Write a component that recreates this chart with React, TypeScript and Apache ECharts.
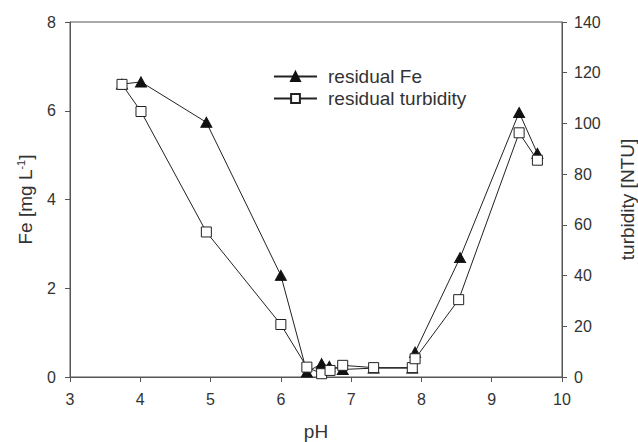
import React, { useEffect, useRef } from "react";
import * as echarts from "echarts";

const phFe = [3.74, 4.01, 4.94, 6.0, 6.37, 6.58, 6.69, 6.88, 7.32, 7.87, 7.91, 8.55, 9.39, 9.65];
const feValues = [6.6, 6.65, 5.74, 2.29, 0.11, 0.3, 0.24, 0.17, 0.2, 0.2, 0.56, 2.69, 5.96, 5.04];
const phTurb = [3.74, 4.01, 4.94, 6.0, 6.37, 6.58, 6.7, 6.88, 7.32, 7.87, 7.91, 8.53, 9.39, 9.65];
const turbValues = [115.4, 104.7, 57.2, 20.7, 3.9, 1.3, 2.6, 4.6, 3.7, 3.7, 7.2, 30.5, 96.3, 85.5];

const seriesNames = ["residual Fe", "residual turbidity"];

const AXIS = "#555";
const TEXT = "#333";
const FONT = "Liberation Sans, Arial, sans-serif";

export default function App() {
  const ref = useRef<HTMLDivElement>(null);
  useEffect(() => {
    if (!ref.current) return;
    const chart = echarts.init(ref.current, undefined, { renderer: "svg" });
    const feData = phFe.map((x, i) => [x, feValues[i]]);
    const turbData = phTurb.map((x, i) => [x, turbValues[i]]);
    chart.setOption({
      animation: false,
      backgroundColor: "#fff",
      textStyle: { fontFamily: FONT },
      grid: {
        left: 70,
        right: 76,
        top: 22,
        bottom: 65,
        show: true,
        borderColor: AXIS,
        borderWidth: 1,
        outerBoundsMode: "none",
      },
      legend: {
        orient: "vertical",
        left: 268,
        top: 62,
        itemWidth: 43,
        itemHeight: 11,
        itemGap: 3,
        data: seriesNames,
        textStyle: { fontSize: 19, color: TEXT, fontFamily: FONT, padding: [0, 0, 0, 6] },
      },
      xAxis: {
        type: "value",
        min: 3,
        max: 10,
        interval: 1,
        name: "pH",
        nameLocation: "middle",
        nameGap: 45,
        nameTextStyle: { fontSize: 19, color: TEXT },
        axisLine: { lineStyle: { color: AXIS } },
        axisTick: { length: 5, lineStyle: { color: AXIS } },
        axisLabel: { fontSize: 16, color: TEXT, margin: 14 },
        splitLine: { show: false },
      },
      yAxis: [
        {
          type: "value",
          min: 0,
          max: 8,
          interval: 2,
          name: "Fe [mg L{sup|-1}]",
          nameLocation: "middle",
          nameRotate: 90,
          nameGap: 35,
          nameTextStyle: {
            fontSize: 19,
            color: TEXT,
            rich: {
              sup: { fontSize: 11, color: TEXT, padding: [0, 0, 9, 0] },
            },
          },
          axisLine: { show: true, lineStyle: { color: AXIS } },
          axisTick: { show: true, length: 5, lineStyle: { color: AXIS } },
          axisLabel: { fontSize: 16, color: TEXT, margin: 14 },
          splitLine: { show: false },
        },
        {
          type: "value",
          min: 0,
          max: 140,
          interval: 20,
          position: "right",
          name: "turbidity [NTU]",
          nameLocation: "middle",
          nameRotate: 90,
          nameGap: 56,
          nameTextStyle: { fontSize: 19, color: TEXT },
          axisLine: { show: true, lineStyle: { color: AXIS } },
          axisTick: { show: true, length: 5, lineStyle: { color: AXIS } },
          axisLabel: { fontSize: 16, color: TEXT, margin: 12 },
          splitLine: { show: false },
        },
      ],
      series: [
        {
          name: seriesNames[0],
          type: "line",
          yAxisIndex: 0,
          data: feData,
          symbol: "triangle",
          symbolSize: [11, 10],
          lineStyle: { color: "#222", width: 1 },
          itemStyle: { color: "#111", borderColor: "#111", borderWidth: 1 },
          z: 2,
        },
        {
          name: seriesNames[1],
          type: "line",
          yAxisIndex: 1,
          data: turbData,
          symbol: "rect",
          symbolSize: 10,
          lineStyle: { color: "#222", width: 1 },
          itemStyle: { color: "#fff", borderColor: "#222", borderWidth: 1 },
          z: 3,
        },
      ],
    });
    return () => chart.dispose();
  }, []);
  return (
    <div
      ref={ref}
      style={{ position: "fixed", left: 0, top: 0, width: 638, height: 442, background: "#fff" }}
    />
  );
}
